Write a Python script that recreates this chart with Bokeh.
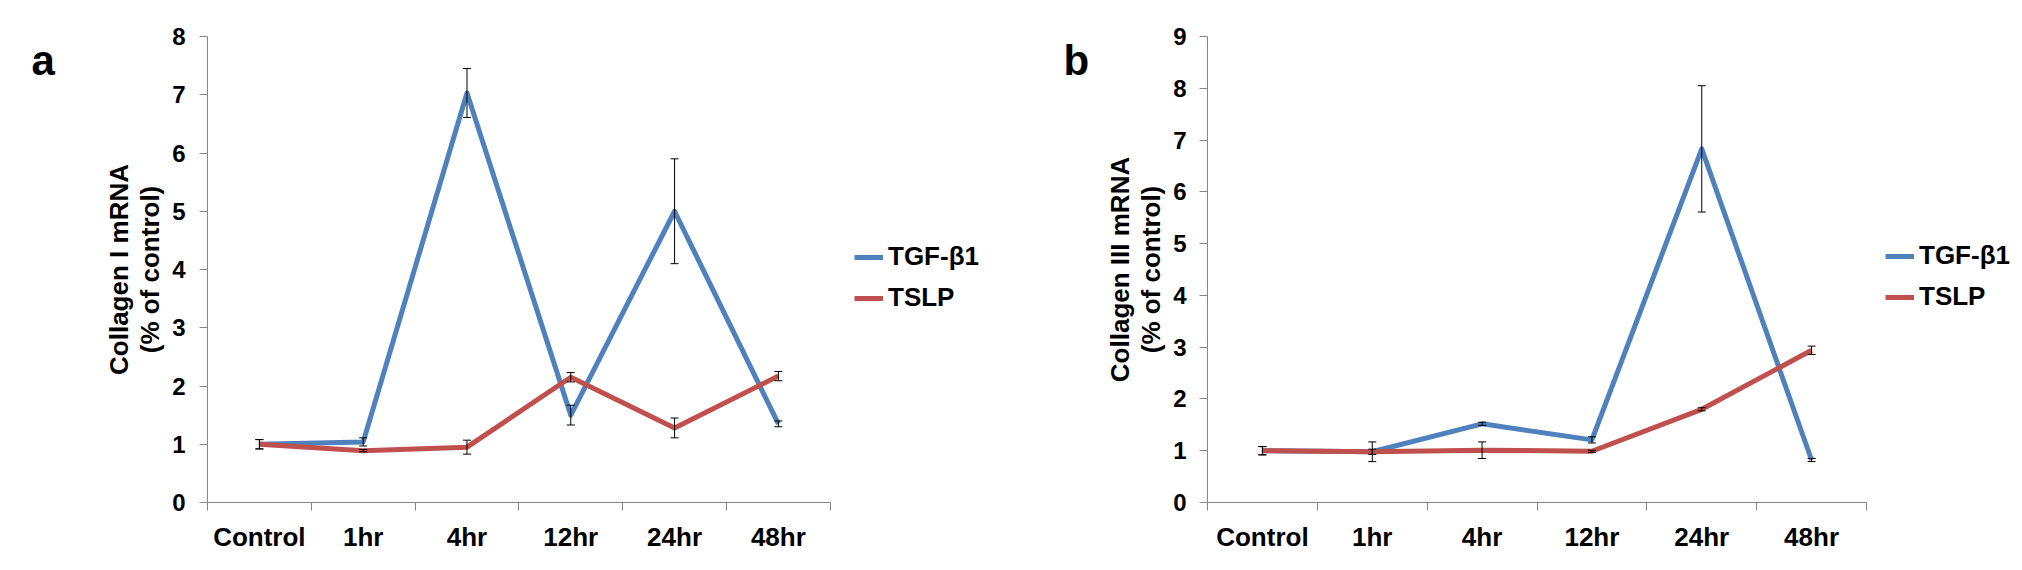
from bokeh.plotting import figure
from bokeh.models import (ColumnDataSource, Whisker, TeeHead, FixedTicker, Legend,
                          LegendItem, Range1d, Label)
from bokeh.layouts import row
from bokeh.embed import file_html
from bokeh.resources import INLINE

# ---------------- data ----------------
categories = ["Control", "1hr", "4hr", "12hr", "24hr", "48hr"]
series_names = ["TGF-\u03b21", "TSLP"]

# panel a : Collagen I mRNA
tgf_a = [1.00, 1.04, 7.03, 1.50, 5.00, 1.35]
tgf_a_err = [0.08, 0.07, 0.42, 0.17, 0.90, 0.05]
tslp_a = [1.00, 0.89, 0.95, 2.15, 1.28, 2.17]
tslp_a_err = [0.08, 0.02, 0.12, 0.08, 0.17, 0.08]

# panel b : Collagen III mRNA
tgf_b = [1.00, 0.98, 1.52, 1.21, 6.83, 0.82]
tgf_b_err = [0.08, 0.19, 0.03, 0.06, 1.22, 0.03]
tslp_b = [1.00, 0.98, 1.01, 0.99, 1.80, 2.94]
tslp_b_err = [0.08, 0.05, 0.16, 0.02, 0.03, 0.08]

y_ticks_a = [0, 1, 2, 3, 4, 5, 6, 7, 8]
y_ticks_b = [0, 1, 2, 3, 4, 5, 6, 7, 8, 9]

BLUE = "#4F81BD"
RED = "#C0504D"
AXIS_GRAY = "#868686"
FONT = "Liberation Sans"
H = 570


def letter_fig(letter, width, x, baseline_from_top):
    # small panel holding the panel letter; its ranges equal its pixel size
    p = figure(width=width, height=H, output_backend="svg", toolbar_location=None,
               title=None,
               x_range=Range1d(0, width), y_range=Range1d(0, H),
               x_axis_location=None, y_axis_location=None,
               min_border_left=0, min_border_right=0, min_border_top=0, min_border_bottom=0)
    p.outline_line_color = None
    p.xgrid.visible = False
    p.ygrid.visible = False
    p.add_layout(Label(x=x, y=H - baseline_from_top,
                       text=letter, text_font=FONT, text_font_style="bold",
                       text_font_size="42px", text_color="black",
                       text_baseline="alphabetic", text_align="left"))
    return p


def make_panel(ylabel, tgf, tgf_err, tslp, tslp_err, yticks,
               width, b_left, axis_px, b_top, frame_h,
               ytick_standoff, legend_loc):
    n = len(categories)
    centers = [i + 0.5 for i in range(n)]
    bounds = list(range(n + 1))
    frame_w = width - b_left
    x_end = n * frame_w / axis_px   # frame extends to the right to hold the legend

    p = figure(width=width, height=H, output_backend="svg", toolbar_location=None,
               title=None,
               x_range=Range1d(0, x_end), y_range=Range1d(yticks[0], yticks[-1]),
               min_border_left=b_left, min_border_right=0,
               min_border_top=b_top, min_border_bottom=H - b_top - frame_h)
    p.outline_line_color = None
    p.xgrid.visible = False
    p.ygrid.visible = False
    p.background_fill_color = "white"
    p.border_fill_color = "white"

    # x axis: labels at category centres, ticks at category boundaries
    xa = p.xaxis[0]
    xa.bounds = (0, n)
    xa.ticker = FixedTicker(ticks=centers, minor_ticks=bounds)
    xa.major_label_overrides = {c: lab for c, lab in zip(centers, categories)}
    xa.major_tick_line_color = None
    xa.major_tick_out = 0
    xa.major_tick_in = 0
    xa.minor_tick_out = 8
    xa.minor_tick_in = 0
    xa.minor_tick_line_color = AXIS_GRAY
    xa.axis_line_color = AXIS_GRAY
    xa.major_label_text_font = FONT
    xa.major_label_text_font_style = "bold"
    xa.major_label_text_font_size = "26px"
    xa.major_label_text_color = "black"
    xa.major_label_standoff = 11

    ya = p.yaxis[0]
    ya.ticker = FixedTicker(ticks=yticks, minor_ticks=[])
    ya.major_tick_out = 8
    ya.major_tick_in = 0
    ya.major_tick_line_color = AXIS_GRAY
    ya.minor_tick_line_color = None
    ya.axis_line_color = AXIS_GRAY
    ya.major_label_text_font = FONT
    ya.major_label_text_font_style = "bold"
    ya.major_label_text_font_size = "24px"
    ya.major_label_text_color = "black"
    ya.major_label_standoff = ytick_standoff
    ya.axis_label = ylabel
    ya.axis_label_text_font = FONT
    ya.axis_label_text_font_style = "bold"
    ya.axis_label_text_font_size = "26px"
    ya.axis_label_text_color = "black"
    ya.axis_label_standoff = 4
    ya.axis_label_text_line_height = 1.05

    src = ColumnDataSource(dict(
        x=centers,
        tgf=tgf, tgf_up=[v + e for v, e in zip(tgf, tgf_err)],
        tgf_lo=[v - e for v, e in zip(tgf, tgf_err)],
        tslp=tslp, tslp_up=[v + e for v, e in zip(tslp, tslp_err)],
        tslp_lo=[v - e for v, e in zip(tslp, tslp_err)],
    ))

    r1 = p.line("x", "tgf", source=src, line_color=BLUE, line_width=5, line_join="round")
    r2 = p.line("x", "tslp", source=src, line_color=RED, line_width=5, line_join="round")

    for up, lo in (("tgf_up", "tgf_lo"), ("tslp_up", "tslp_lo")):
        w = Whisker(source=src, base="x", upper=up, lower=lo, dimension="height",
                    line_color="black", line_width=1, level="overlay",
                    upper_head=TeeHead(size=8, line_color="black", line_width=1),
                    lower_head=TeeHead(size=8, line_color="black", line_width=1))
        p.add_layout(w)

    legend = Legend(items=[LegendItem(label=series_names[0], renderers=[r1]),
                           LegendItem(label=series_names[1], renderers=[r2])],
                    location=legend_loc)
    legend.label_text_font = FONT
    legend.label_text_font_style = "bold"
    legend.label_text_font_size = "26px"
    legend.label_text_color = "black"
    legend.glyph_width = 29
    legend.glyph_height = 28
    legend.label_height = 28
    legend.label_standoff = 5
    legend.spacing = 10
    legend.padding = 0
    legend.margin = 0
    legend.border_line_color = None
    legend.background_fill_alpha = 0
    p.add_layout(legend)
    return p


la = letter_fig("a", 100, 31, 29)
pa = make_panel("Collagen I mRNA\n(% of control)", tgf_a, tgf_a_err, tslp_a, tslp_a_err,
                y_ticks_a, width=940, b_left=100, axis_px=628, b_top=35, frame_h=467,
                ytick_standoff=14, legend_loc=(647, 189))
lb = letter_fig("b", 60, 23, 29)
pb = make_panel("Collagen III mRNA\n(% of control)", tgf_b, tgf_b_err, tslp_b, tslp_b_err,
                y_ticks_b, width=922, b_left=107, axis_px=659, b_top=36, frame_h=479,
                ytick_standoff=13, legend_loc=(678, 190))

layout = row(la, pa, lb, pb, spacing=0)
open("out.html", "w").write(file_html(layout, INLINE))
